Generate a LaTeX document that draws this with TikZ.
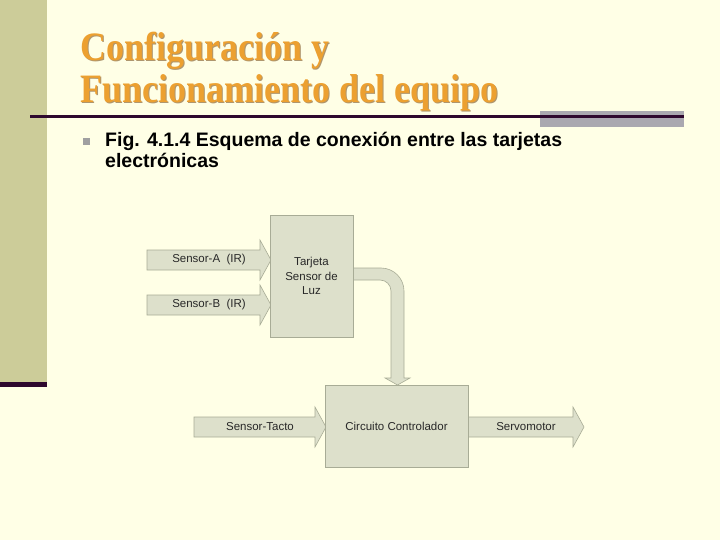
\documentclass[tikz,border=0pt]{standalone}
\usepackage{fontspec}
\setmainfont{Liberation Serif}
\newfontfamily\arialf{Liberation Sans}
\usetikzlibrary{calc}
\definecolor{bg}{RGB}{255,255,230}
\definecolor{sidebar}{RGB}{204,204,153}
\definecolor{plum}{RGB}{46,8,46}
\definecolor{graybar}{RGB}{170,168,176}
\definecolor{titleor}{RGB}{236,160,48}
\definecolor{titleshadow}{RGB}{175,150,110}
\definecolor{bulletgray}{RGB}{160,160,160}
\definecolor{blockfill}{RGB}{221,224,203}
\definecolor{blockline}{RGB}{168,172,150}
\definecolor{labtext}{RGB}{40,40,40}
\tikzset{
  block/.style={draw=blockline, fill=blockfill, line width=0.6pt, inner sep=0pt,
    font=\arialf\fontsize{11.5}{14.5}\selectfont, text=labtext, align=center},
  fatarrow/.style={draw=blockline, fill=blockfill, line width=0.6pt, line join=miter},
  lab/.style={font=\arialf\fontsize{11.5}{14}\selectfont, text=labtext, inner sep=0pt},
  titletext/.style={font=\bfseries\fontsize{36}{36}\selectfont, anchor=base west, inner sep=0pt},
  captext/.style={font=\arialf\bfseries\fontsize{19.5}{21}\selectfont, anchor=base west, inner sep=0pt, text=black},
}
\newcommand\hfatarrow[3]{% x start, x tip, y centre
  \path[fatarrow] (#1,#3-10) -- (#2-11,#3-10) -- (#2-11,#3-20) -- (#2,#3)
    -- (#2-11,#3+20) -- (#2-11,#3+10) -- (#1,#3+10) -- cycle;}
\newcommand\tallt[1]{\scalebox{1}[1.12]{#1}}
\begin{document}
\begin{tikzpicture}[x=1pt,y=-1pt]
  \fill[bg] (0,0) rectangle (720,540);
  \useasboundingbox (0,0) rectangle (720,540);
  % side bar
  \fill[sidebar] (0,0) rectangle (47,382);
  \fill[plum] (0,382) rectangle (47,387);
  % title
  \node[titletext, text=titleshadow] at (81,62) {\tallt{Configuración y}};
  \node[titletext, text=titleshadow] at (81,104) {\tallt{Funcionamiento del equipo}};
  \node[titletext, text=titleor] (title1) at (80,61) {\tallt{Configuración y}};
  \node[titletext, text=titleor] (title2) at (80,103) {\tallt{Funcionamiento del equipo}};
  % rule
  \fill[graybar] (540,111) rectangle (684,127);
  \draw[plum, line width=3pt] (30,117) -- (684,117);
  % bullet text
  \node[fill=bulletgray, minimum size=7pt, inner sep=0pt] (bullet) at (86.5,141.5) {};
  \node[captext] (cap1) at (105,147) {Fig. 4.1.4 Esquema de conexión entre las tarjetas};
  \node[captext] (cap2) at (105,168) {electrónicas};
  % diagram arrows
  \hfatarrow{147}{271}{260}
  \node[lab] (sa) at (209,260) {Sensor-A\ \ (IR)};
  \hfatarrow{147}{271}{305}
  \node[lab] (sb) at (209,305) {Sensor-B\ \ (IR)};
  \hfatarrow{194}{326}{427}
  \node[lab] (st) at (260,427) {Sensor-Tacto};
  \hfatarrow{468}{584}{427}
  \node[lab] (sv) at (526,427) {Servomotor};
  % bent arrow
  \path[fatarrow] (350,268) -- (381,268) .. controls (393.7,268) and (404,278.3) .. (404,291)
    -- (404,378) -- (410,378) -- (397.5,385) -- (385,378) -- (391,378) -- (391,291)
    .. controls (391,284.9) and (386.1,280) .. (380,280) -- (350,280) -- cycle;
  % blocks
  \node[block, minimum width=83pt, minimum height=122pt] (tarjeta) at (311.5,276) {Tarjeta\\Sensor de\\Luz};
  \node[block, minimum width=143pt, minimum height=82pt] (ctrl) at (396.5,426) {Circuito Controlador};
\end{tikzpicture}
\end{document}
